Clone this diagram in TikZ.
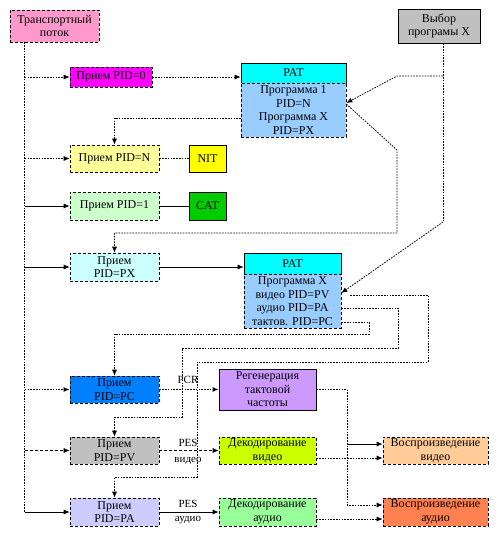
\documentclass[tikz,border=0pt]{standalone}
\usepackage{fontspec}
\setmainfont{Liberation Serif}
\usepackage{tikz}
\usetikzlibrary{
	arrows.meta,
	calc
}
\definecolor{TsPink}{RGB}{255,153,204}
\definecolor{SelGray}{RGB}{192,192,192}
\definecolor{PidMagenta}{RGB}{255,0,255}
\definecolor{PatCyan}{RGB}{0,255,255}
\definecolor{PatBlue}{RGB}{153,204,255}
\definecolor{NitLight}{RGB}{255,255,153}
\definecolor{NitYellow}{RGB}{255,255,0}
\definecolor{CatLight}{RGB}{204,255,204}
\definecolor{CatGreen}{RGB}{0,204,0}
\definecolor{PxCyan}{RGB}{204,255,255}
\definecolor{PcBlue}{RGB}{0,128,255}
\definecolor{RegViolet}{RGB}{204,153,255}
\definecolor{PvGray}{RGB}{192,192,192}
\definecolor{DecLime}{RGB}{204,255,0}
\definecolor{PlayPeach}{RGB}{255,204,153}
\definecolor{PaLavender}{RGB}{204,204,255}
\definecolor{DecMint}{RGB}{153,255,153}
\definecolor{PlayCoral}{RGB}{255,128,80}

\begin{document}
\begin{tikzpicture}[x=1pt, y=-1pt,
	box/.style={draw, densely dashed, line width=0.6pt, align=center, inner sep=1pt, font=\fontsize{12}{13.5}\selectfont},
	solidbox/.style={box, solid},
	link/.style={line width=0.8pt},
	dotlink/.style={link, dash pattern=on 1.6pt off 1.2pt},
	arr/.style={-{Latex[length=6pt,width=5pt]}},
	lbl/.style={inner sep=1pt, font=\fontsize{11}{12}\selectfont}]
	\useasboundingbox (0,0) rectangle (499,536);
	
	% источник и выбор программы
	\node[box, fill=TsPink, minimum width=89pt, minimum height=32pt] (ts) at (54.5,26) {Транспортный\\поток};
	\node[solidbox, fill=SelGray, minimum width=82pt, minimum height=34pt] (sel) at (439,26) {Выбор\\програмы X};
	
	% PAT для всех программ
	\node[box, fill=PidMagenta, minimum width=82pt, minimum height=20pt] (pid0) at (111,77) {Прием PID=0};
	\node[solidbox, fill=PatCyan, minimum width=105pt, minimum height=20pt] (pat1h) at (293.5,73) {PAT};
	\node[box, fill=PatBlue, minimum width=105pt, minimum height=54pt] (pat1b) at (293.5,110) {Программа 1\\PID=N\\Программа X\\PID=PX};
	
	% NIT и CAT
	\node[box, fill=NitLight, minimum width=89pt, minimum height=27pt] (pidN) at (114.5,158.5) {Прием PID=N};
	\node[solidbox, fill=NitYellow, minimum width=37pt, minimum height=27pt] (nit) at (207.5,158.5) {NIT};
	\node[box, fill=CatLight, minimum width=89pt, minimum height=28pt] (pid1) at (114.5,206) {Прием PID=1};
	\node[solidbox, fill=CatGreen, minimum width=37pt, minimum height=28pt] (cat) at (207.5,206) {CAT};
	
	% PAT программы X
	\node[box, fill=PxCyan, minimum width=89pt, minimum height=28pt] (pidPX) at (114.5,267) {Прием\\PID=PX};
	\node[solidbox, fill=PatCyan, minimum width=97pt, minimum height=21pt] (pat2h) at (292.5,263.5) {PAT};
	\node[box, fill=PatBlue, minimum width=97pt, minimum height=54pt] (pat2b) at (292.5,301) {Программа X\\видео PID=PV\\аудио PID=PA\\тактов. PID=PC};
	
	% прием элементарных потоков
	\node[box, fill=PcBlue, minimum width=89pt, minimum height=27pt] (pidPC) at (114.5,389.5) {Прием\\PID=PC};
	\node[solidbox, fill=RegViolet, minimum width=97pt, minimum height=41pt] (reg) at (267.5,389.5) {Регенерация\\тактовой\\частоты};
	\node[box, fill=PvGray, minimum width=89pt, minimum height=27pt] (pidPV) at (114.5,450.5) {Прием\\PID=PV};
	\node[box, fill=DecLime, minimum width=97pt, minimum height=27pt] (decV) at (267.5,450.5) {Декодирование\\видео};
	\node[box, fill=PlayPeach, minimum width=105pt, minimum height=27pt] (playV) at (435.5,450.5) {Воспроизведение\\видео};
	\node[box, fill=PaLavender, minimum width=89pt, minimum height=28pt] (pidPA) at (114.5,512) {Прием\\PID=PA};
	\node[box, fill=DecMint, minimum width=97pt, minimum height=28pt] (decA) at (267.5,512) {Декодирование\\аудио};
	\node[box, fill=PlayCoral, minimum width=105pt, minimum height=28pt] (playA) at (435.5,512) {Воспроизведение\\аудио};
	
	% подписи потоков
	\node[lbl] (pcr) at (188,380) {PCR};
	\node[lbl] (pesV) at (188,443) {PES};
	\node[lbl] (vidV) at (188,461) {видео};
	\node[lbl] (pesA) at (188,504) {PES};
	\node[lbl] (audA) at (188,520) {аудио};
	
	% общая шина транспортного потока
	\coordinate (t0) at ([xshift=15pt]ts.south west);
	\draw[dotlink] (t0) -- (t0 |- pidPA.west);
	\draw[dotlink, arr] (t0 |- pid0.west) -- (pid0.west);
	\draw[dotlink, arr] (t0 |- pidN.west) -- (pidN.west);
	\draw[link, arr] (t0 |- pid1.west) -- (pid1.west);
	\draw[link, arr] (t0 |- pidPX.west) -- (pidPX.west);
	\draw[dotlink, line width=1.4pt, arr] (t0 |- pidPC.west) -- (pidPC.west);
	\draw[link, densely dashed, arr] (t0 |- pidPV.west) -- (pidPV.west);
	\draw[link, arr] (t0 |- pidPA.west) -- (pidPA.west);
	
	% таблицы
	\draw[dotlink, arr] (pid0.east) -- (pid0.east -| pat1h.west);
	\draw[dotlink, arr] ([yshift=-8pt]pat1b.west) -| (pidN.north);
	\draw[dotlink] (pidN.east) -- (nit.west);
	\draw[link] (pid1.east) -- (cat.west);
	\draw[link, arr] (pidPX.east) -- (pidPX.east -| pat2h.west);
	
	% выбор программы X
	\coordinate (s0) at ([xshift=4pt]sel.south);
	\coordinate (s1) at (443,222);
	\draw[dotlink] (s0) -- (s1);
	\draw[dotlink, arr] (443,76) -- (397,76) -- ([yshift=7pt]pat1b.east);
	\draw[dotlink, arr] ([yshift=6pt]pat1b.east) -- (397,150) -- (397,233) -| (pidPX.north);
	\draw[dotlink, arr] (s1) -- ([yshift=8pt]pat2b.east);
	
	% PID элементарных потоков
	\draw[dotlink, arr] ([xshift=9pt,yshift=6pt]pat2b.east) -- (428,295) -- (428,362) -- (197,362) -- (197,477) -| (pidPA.north);
	\draw[dotlink, arr] ([yshift=-7pt]pat2b.east) -- (398,308) -- (398,348) -- (182,348) -- (182,417) -| (pidPV.north);
	\draw[dotlink, arr] ([yshift=-21pt]pat2b.east) -- (369,322) -- (369,334) -| (pidPC.north);
	
	% декодирование
	\draw[dotlink, line width=1.4pt, arr] (pidPC.east) -- (reg.west);
	\draw[link, densely dashed, arr] (pidPV.east) -- (decV.west);
	\draw[link, arr] (pidPA.east) -- (decA.west);
	
	% воспроизведение
	\draw[dotlink, arr] (reg.east) -| (347,505) -- ([yshift=7pt]playA.west);
	\draw[link, arr] (347,444) -- ([yshift=6.5pt]playV.west);
	\draw[dotlink, arr] ([yshift=-7.5pt]decV.east) -- ([yshift=-7.5pt]playV.west);
	\draw[dotlink, arr] ([yshift=-7pt]decA.east) -- ([yshift=-7pt]playA.west);
\end{tikzpicture}
\end{document}
